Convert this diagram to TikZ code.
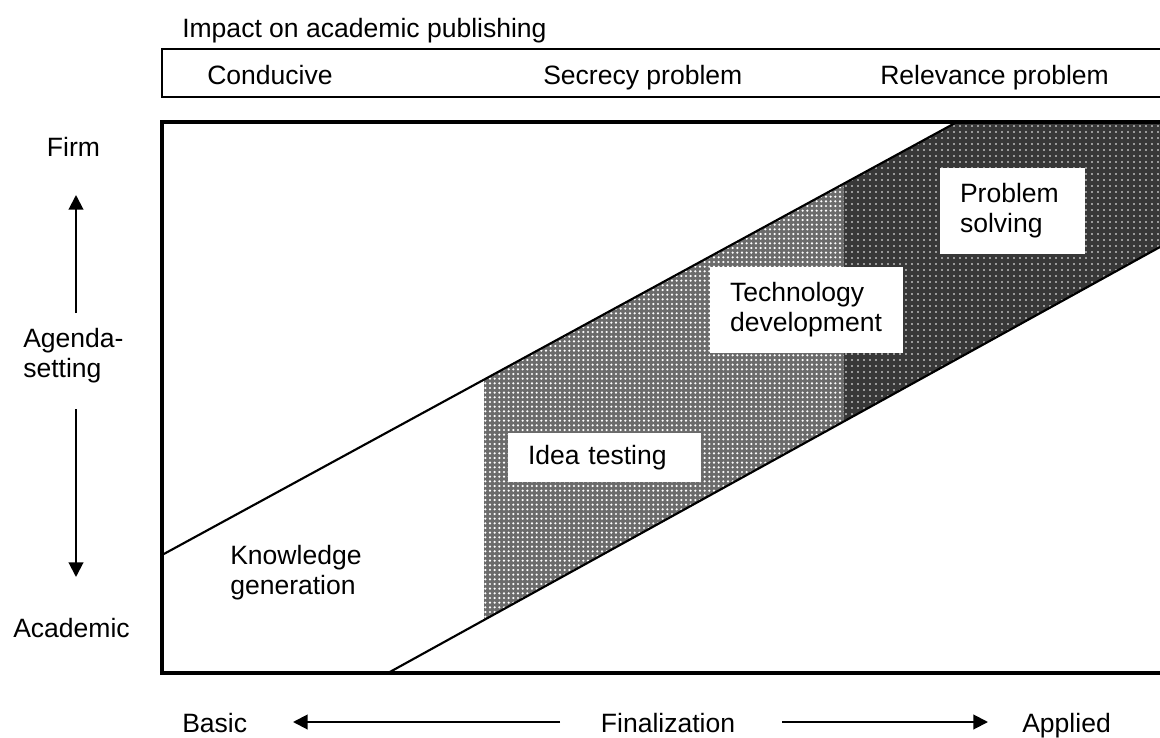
\documentclass[tikz,border=0pt]{standalone}
\usepackage{fontspec}
\setmainfont{Liberation Sans}
\usetikzlibrary{arrows.meta,patterns.meta}
\definecolor{ideagrey}{gray}{0.42}
\definecolor{solvegrey}{gray}{0.22}

\begin{document}
\begin{tikzpicture}[x=0.75pt,y=-0.75pt,
    every node/.style={font=\fontsize{19.9}{22.5}\selectfont,inner sep=0pt},
    arr/.style={line width=1.5pt,-{Triangle[length=11pt,width=11pt]}},
    frame/.style={line width=2.6pt},
    border/.style={line width=1.4pt},
    slope/.style={line width=1.6pt},
    idea fill/.style={fill=ideagrey},
    idea dots/.style={pattern={Dots[distance=3.5pt,radius=0.9pt]},pattern color=white},
    solve fill/.style={fill=solvegrey},
    solve dots/.style={pattern={Dots[distance=4.5pt,radius=0.7pt]},pattern color=white},
    phase box/.style={fill=white,align=left,inner xsep=15pt,inner ysep=0pt}]
  \clip (0,0) rectangle (1160,738);

  % shaded bands between the two slopes
  \fill[idea fill] (484,379.6) -- (844,183.5) -- (844,421.4) -- (484,620) -- cycle;
  \path[idea dots] (484,379.6) -- (844,183.5) -- (844,421.4) -- (484,620) -- cycle;
  \fill[solve fill] (844,183.5) -- (957,122) -- (1160,122) -- (1160,247) -- (844,421.4) -- cycle;
  \path[solve dots] (844,183.5) -- (957,122) -- (1160,122) -- (1160,247) -- (844,421.4) -- cycle;

  \coordinate (up a) at (162,555);
  \coordinate (up b) at (957,122);
  \coordinate (low a) at (388,673);
  \coordinate (low b) at (1160,247);
  \draw[slope] (up a) -- (up b);
  \draw[slope] (low a) -- (low b);

  \draw[frame] (162,122) rectangle (1175,673);

  % impact on publishing
  \node[anchor=base west] (impact) at (182,37.5) {Impact on academic publishing};
  \draw[border] (162,49) rectangle (1175,97);
  \node[anchor=base west] (conducive) at (207,85) {Conducive};
  \node[anchor=base west] (secrecy) at (543,85) {Secrecy problem};
  \node[anchor=base west] (relevance) at (880,85) {Relevance problem};

  % phases
  \node[anchor=west,align=left] (knowledge) at (230,572.5) {Knowledge\\generation};
  \node[phase box,text width=114.75pt,minimum height=36.75pt] (idea) at (604.5,457.5) {Idea testing};
  \node[phase box,text width=114.75pt,minimum height=64.5pt] (techdev) at (806.5,310) {Technology\\development};
  \node[phase box,text width=78.75pt,minimum height=64.5pt] (solving) at (1012.5,211) {Problem\\solving};

  % agenda-setting axis
  \node[anchor=base] (firm) at (73.5,157) {Firm};
  \node[anchor=west,align=left] (agenda) at (23,356) {Agenda-\\setting};
  \node[anchor=base] (academic) at (71.5,637) {Academic};
  \coordinate (firm tip) at (76,195);
  \coordinate (agenda top) at (76,313);
  \coordinate (agenda bot) at (76,409);
  \coordinate (academic tip) at (76,577);
  \draw[arr] (agenda top) -- (firm tip);
  \draw[arr] (agenda bot) -- (academic tip);

  % finalization axis
  \node[anchor=base west] (basic) at (182,732) {Basic};
  \node[anchor=base] (final) at (668,732) {Finalization};
  \node[anchor=base west] (applied) at (1022,732) {Applied};
  \coordinate (basic tip) at (293,722);
  \coordinate (final left) at (560,722);
  \coordinate (final right) at (782,722);
  \coordinate (applied tip) at (988,722);
  \draw[arr] (final left) -- (basic tip);
  \draw[arr] (final right) -- (applied tip);
\end{tikzpicture}
\end{document}
